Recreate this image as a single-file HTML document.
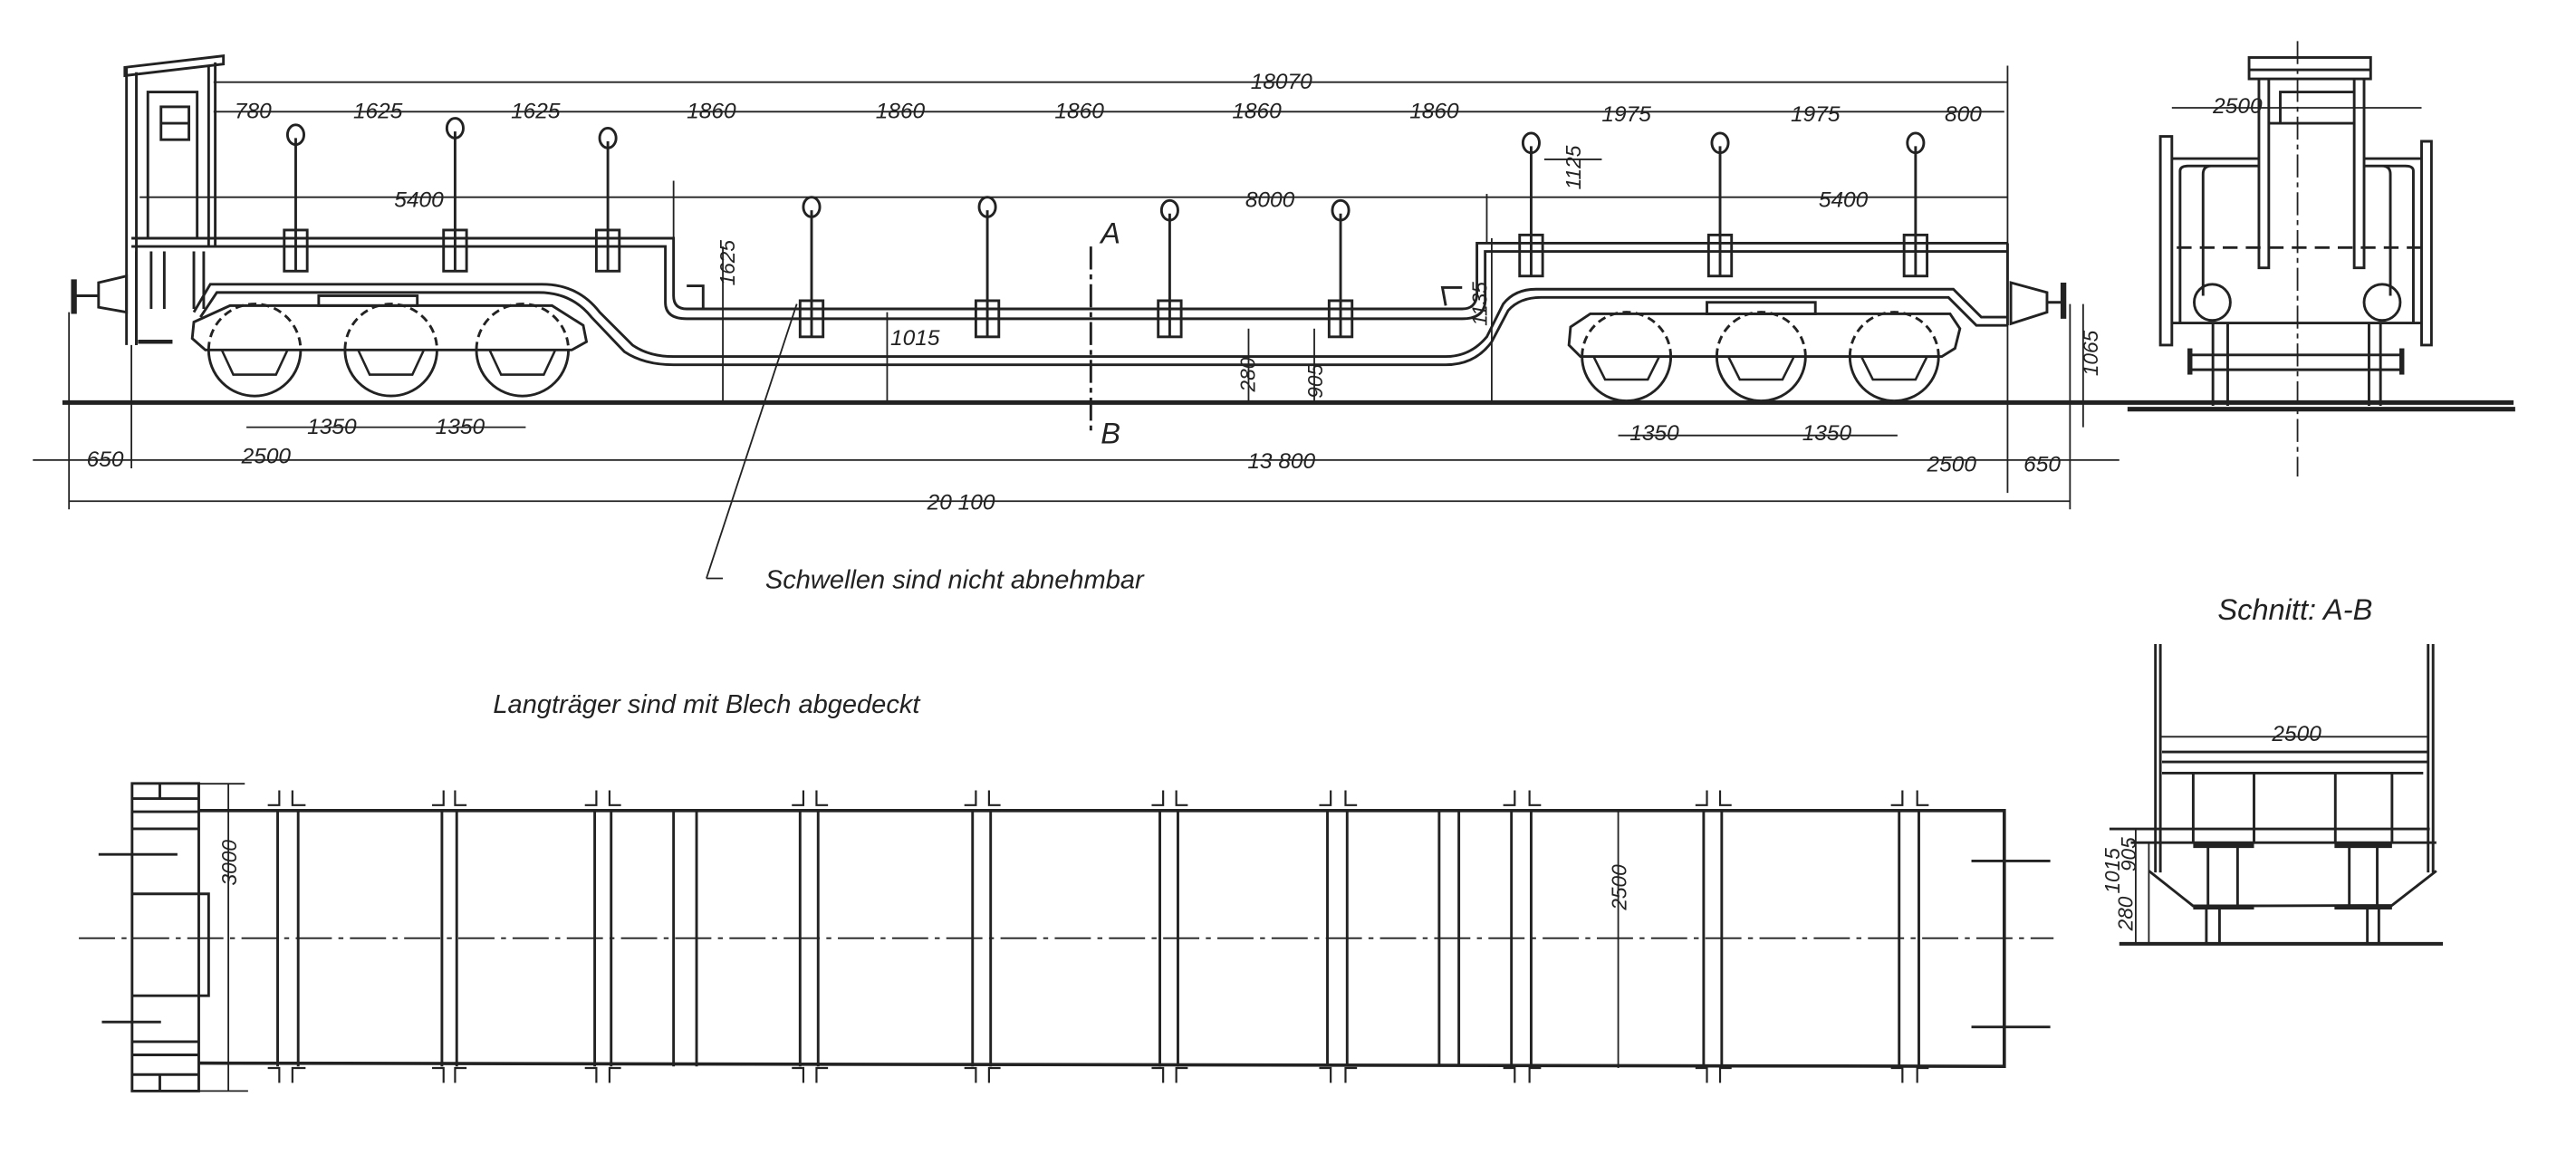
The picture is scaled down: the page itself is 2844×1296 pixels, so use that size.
<!DOCTYPE html>
<html><head><meta charset="utf-8"><style>
html,body{margin:0;padding:0;background:#fff;}
svg{display:block;}
text{font-family:"Liberation Sans",sans-serif;font-style:italic;fill:#222;}
</style></head><body>
<svg width="2844" height="1296" viewBox="0 0 1568 714.5" preserveAspectRatio="none" xmlns="http://www.w3.org/2000/svg">
<rect width="1568" height="714.5" fill="#fff"/>
<g stroke="#222" fill="none" stroke-width="1.6">
<line x1="38" y1="245" x2="1530" y2="245" stroke-width="2.8"/>
<path d="M77 41 L77 210 M83 44 L83 210 M127 40 L127 150 M131 38 L131 150"/>
<path d="M76 41 L76 46 L136 39 L136 34 Z"/>
<rect x="90" y="56" width="30" height="89"/>
<rect x="98" y="65" width="17" height="20"/>
<line x1="98" y1="75" x2="115" y2="75"/>
<path d="M83 153 L83 210 M92 153 L92 188 M100 153 L100 188 M118 153 L118 188 M124 153 L124 188"/>
<line x1="84" y1="208" x2="105" y2="208" stroke-width="2.5"/>
<path d="M80 145 L410 145 L410 180 Q410 188 418 188 L890 188 Q898 188 899 180 L899 148 L1222 148"/>
<path d="M80 150 L405 150 L405 184 Q405 194 418 194 L890 194 Q903 194 904 184 L904 153 L1222 153"/>
<path d="M418 174 L428 174 L428 188 M880 186 L878 175 L890 175"/>
<path d="M118 190 L128 173 L330 173 Q352 173 365 190 L385 210 Q395 217 410 217 L880 217 Q895 217 905 205 L915 185 Q922 176 935 176 L1189 176 L1206 193 L1222 193"/>
<path d="M122 193 L132 178 L328 178 Q348 178 360 193 L380 214 Q392 222 410 222 L880 222 Q898 222 908 208 L918 189 Q925 181 938 181 L1186 181 L1203 198 L1222 198"/>
<line x1="1222" y1="148" x2="1222" y2="198"/>
<path d="M60 172 L77 168 L77 190 L60 187 Z"/>
<line x1="45" y1="170" x2="45" y2="191" stroke-width="3.5"/>
<line x1="45" y1="180" x2="60" y2="180"/>
<path d="M1224 172 L1246 178 L1246 190 L1224 197 Z"/>
<line x1="1256" y1="172" x2="1256" y2="194" stroke-width="3.5"/>
<line x1="1246" y1="184" x2="1256" y2="184"/>
<path d="M140 186 L336 186 L355 198 L357 208 L348 213 L125 213 L117 206 L118 196 Z"/>
<rect x="194" y="180" width="60" height="6"/>
<path d="M968 191 L1187 191 L1193 200 L1190 212 L1182 217 L962 217 L955 210 L956 199 Z"/>
<rect x="1039" y="184" width="66" height="7"/>
<g stroke-dasharray="5,3">
<path d="M127 213 A28 28 0 0 1 183 213"/><path d="M210 213 A28 28 0 0 1 266 213"/><path d="M290 213 A28 28 0 0 1 346 213"/>
<path d="M963 217 A27 27 0 0 1 1017 217"/><path d="M1045 217 A27 27 0 0 1 1099 217"/><path d="M1126 217 A27 27 0 0 1 1180 217"/>
</g>
<path d="M127 213 A28 28 0 0 0 183 213"/><path d="M210 213 A28 28 0 0 0 266 213"/><path d="M290 213 A28 28 0 0 0 346 213"/>
<path d="M963 217 A27 27 0 0 0 1017 217"/><path d="M1045 217 A27 27 0 0 0 1099 217"/><path d="M1126 217 A27 27 0 0 0 1180 217"/>
<g stroke-width="1.4">
<path d="M135 213 L142 228 L168 228 L175 213"/><path d="M218 213 L225 228 L251 228 L258 213"/><path d="M298 213 L305 228 L331 228 L338 213"/>
<path d="M970 217 L977 231 L1003 231 L1010 217"/><path d="M1052 217 L1059 231 L1085 231 L1092 217"/><path d="M1133 217 L1140 231 L1166 231 L1173 217"/>
</g>
<g>
<line x1="180" y1="84" x2="180" y2="165"/><ellipse cx="180" cy="82" rx="5" ry="6"/><rect x="173" y="140" width="14" height="25"/>
<line x1="277" y1="80" x2="277" y2="165"/><ellipse cx="277" cy="78" rx="5" ry="6"/><rect x="270" y="140" width="14" height="25"/>
<line x1="370" y1="86" x2="370" y2="165"/><ellipse cx="370" cy="84" rx="5" ry="6"/><rect x="363" y="140" width="14" height="25"/>
<line x1="494" y1="128" x2="494" y2="205"/><ellipse cx="494" cy="126" rx="5" ry="6"/><rect x="487" y="183" width="14" height="22"/>
<line x1="601" y1="128" x2="601" y2="205"/><ellipse cx="601" cy="126" rx="5" ry="6"/><rect x="594" y="183" width="14" height="22"/>
<line x1="712" y1="130" x2="712" y2="205"/><ellipse cx="712" cy="128" rx="5" ry="6"/><rect x="705" y="183" width="14" height="22"/>
<line x1="816" y1="130" x2="816" y2="205"/><ellipse cx="816" cy="128" rx="5" ry="6"/><rect x="809" y="183" width="14" height="22"/>
<line x1="932" y1="89" x2="932" y2="168"/><ellipse cx="932" cy="87" rx="5" ry="6"/><rect x="925" y="143" width="14" height="25"/>
<line x1="1047" y1="89" x2="1047" y2="168"/><ellipse cx="1047" cy="87" rx="5" ry="6"/><rect x="1040" y="143" width="14" height="25"/>
<line x1="1166" y1="89" x2="1166" y2="168"/><ellipse cx="1166" cy="87" rx="5" ry="6"/><rect x="1159" y="143" width="14" height="25"/>
</g>
<line x1="664" y1="150" x2="664" y2="265" stroke-dasharray="14,3,3,3"/>
<g stroke-width="1">
<line x1="130" y1="50" x2="1222" y2="50"/><line x1="1222" y1="40" x2="1222" y2="300"/>
<line x1="130" y1="68" x2="1220" y2="68"/>
<line x1="85" y1="120" x2="1222" y2="120"/>
<line x1="410" y1="110" x2="410" y2="145"/><line x1="905" y1="118" x2="905" y2="148"/>
<line x1="440" y1="150" x2="440" y2="245"/><line x1="540" y1="190" x2="540" y2="245"/>
<line x1="760" y1="200" x2="760" y2="245"/><line x1="800" y1="200" x2="800" y2="245"/>
<line x1="908" y1="145" x2="908" y2="245"/><line x1="1260" y1="185" x2="1260" y2="245"/>
<line x1="1268" y1="185" x2="1268" y2="260"/>
<line x1="150" y1="260" x2="320" y2="260"/><line x1="985" y1="265" x2="1155" y2="265"/>
<line x1="20" y1="280" x2="1290" y2="280"/>
<line x1="42" y1="305" x2="1260" y2="305"/>
<line x1="42" y1="190" x2="42" y2="310"/><line x1="1260" y1="245" x2="1260" y2="310"/>
<line x1="80" y1="210" x2="80" y2="285"/>
<line x1="940" y1="97" x2="975" y2="97"/>
<line x1="485" y1="185" x2="430" y2="352"/><line x1="430" y1="352" x2="440" y2="352"/>
</g>
<rect x="1369" y="35" width="74" height="13"/><line x1="1369" y1="42.5" x2="1443" y2="42.5"/>
<path d="M1375 48 L1375 163 L1381 163 L1381 48 M1433 48 L1433 163 L1439 163 L1439 48"/>
<path d="M1388 75 L1388 56 L1433 56 M1381 75 L1433 75"/>
<path d="M1315 83 L1322 83 L1322 210 L1315 210 Z M1474 86 L1480 86 L1480 210 L1474 210 Z"/>
<path d="M1322 96.5 L1375 96.5 M1439 96.5 L1474 96.5"/>
<path d="M1327 197 L1327 104 Q1327 101 1332 101 L1375 101 M1341 180 L1341 106 Q1341 101 1346 101"/>
<path d="M1469 197 L1469 104 Q1469 101 1464 101 L1439 101 M1455 180 L1455 106 Q1455 101 1450 101"/>
<line x1="1325" y1="150.7" x2="1478" y2="150.7" stroke-dasharray="9,5"/>
<circle cx="1346.6" cy="184" r="11"/><circle cx="1450" cy="184" r="11"/>
<line x1="1322" y1="196.6" x2="1474" y2="196.6"/>
<path d="M1332 216 L1463 216 M1332 225 L1463 225"/>
<line x1="1333" y1="212" x2="1333" y2="228" stroke-width="3"/><line x1="1462" y1="212" x2="1462" y2="228" stroke-width="3"/>
<path d="M1347 197 L1347 247 M1356 197 L1356 247 M1442 197 L1442 247 M1449 197 L1449 247"/>
<line x1="1398.5" y1="25" x2="1398.5" y2="290" stroke-dasharray="14,3,3,3" stroke-width="1"/>
<line x1="1322" y1="65.6" x2="1474" y2="65.6" stroke-width="1"/>
<line x1="1295" y1="249" x2="1531" y2="249" stroke-width="2.8"/>
<path d="M1312 392 L1312 531 M1315 392 L1315 531 M1478 392 L1478 531 M1481 392 L1481 531"/>
<line x1="1315" y1="448.4" x2="1478" y2="448.4" stroke-width="1"/>
<path d="M1316 457.6 L1478 457.6 M1316 463.7 L1478 463.7"/>
<path d="M1316 470.5 L1475 470.5"/>
<path d="M1335 470.5 V512.8 M1372 470.5 V512.8 M1421.5 470.5 V512.8 M1456 470.5 V512.8"/>
<line x1="1284" y1="504.5" x2="1479" y2="504.5"/>
<line x1="1297" y1="512.8" x2="1483" y2="512.8"/>
<path d="M1335 514.6 L1372 514.6 M1421 514.6 L1456 514.6" stroke-width="3"/>
<path d="M1335 552 L1372 552 M1421 552 L1456 552" stroke-width="3"/>
<path d="M1344 514.6 V552 M1362 514.6 V552 M1430 514.6 V552 M1447 514.6 V552"/>
<path d="M1308 530 L1335 551.4 L1456 551 L1483 530"/>
<path d="M1343 552 V575 M1351 552 V575 M1441 552 V575 M1448 552 V575"/>
<line x1="1290" y1="574.4" x2="1487" y2="574.4" stroke-width="2.2"/>
<line x1="1300" y1="505" x2="1300" y2="575" stroke-width="1"/>
<line x1="1308" y1="513" x2="1308" y2="575" stroke-width="1"/>
<path d="M121 493.3 L1220 493.3 L1220 649 L121 647" stroke-width="2"/>
<rect x="80.4" y="476.8" width="40.6" height="187.2"/>
<path d="M97.3 476.8 V486 M80.4 486 H121 M80.4 494 H121 M80.4 504.4 H121 M80.4 544 H127 V606 H80.4 M80.4 634 H121 M80.4 642 H121 M80.4 654 H121 M97.3 654 V664"/>
<line x1="60" y1="520" x2="108" y2="520"/><line x1="62" y1="622" x2="98" y2="622"/>
<line x1="139" y1="477" x2="139" y2="664" stroke-width="1"/>
<line x1="121" y1="477" x2="149" y2="477" stroke-width="1"/><line x1="121" y1="664" x2="151" y2="664" stroke-width="1"/>
<line x1="985" y1="493" x2="985" y2="650" stroke-width="1"/>
<line x1="48" y1="571" x2="1250" y2="571" stroke-dasharray="22,4,3,4" stroke-width="1"/>
<line x1="1200" y1="524" x2="1248" y2="524"/><line x1="1200" y1="625" x2="1248" y2="625"/>
<g>
<path d="M169 493 V649 M181.5 493 V649"/><path d="M269 493 V649 M278 493 V649"/>
<path d="M362 493 V649 M372 493 V649"/><path d="M410 493 V649 M424 493 V649"/>
<path d="M487 493 V649 M498 493 V649"/><path d="M592 493 V649 M603 493 V649"/>
<path d="M706 493 V649 M717 493 V649"/><path d="M808 493 V649 M820 493 V649"/>
<path d="M876 493 V649 M888 493 V649"/><path d="M920 493 V649 M932 493 V649"/>
<path d="M1037 493 V649 M1048 493 V649"/><path d="M1156 493 V649 M1168 493 V649"/>
</g>
</g>
<g font-size="13.5" text-anchor="middle">
<text x="780" y="54">18070</text>
<text x="154" y="72">780</text><text x="230" y="72">1625</text><text x="326" y="72">1625</text>
<text x="433" y="72">1860</text><text x="548" y="72">1860</text><text x="657" y="72">1860</text>
<text x="765" y="72">1860</text><text x="873" y="72">1860</text><text x="990" y="74">1975</text>
<text x="1105" y="74">1975</text><text x="1195" y="74">800</text>
<text x="255" y="126">5400</text><text x="773" y="126">8000</text><text x="1122" y="126">5400</text>
<text x="202" y="264">1350</text><text x="280" y="264">1350</text>
<text x="1007" y="268">1350</text><text x="1112" y="268">1350</text>
<text x="64" y="284">650</text><text x="162" y="282">2500</text><text x="780" y="285">13 800</text>
<text x="1188" y="287">2500</text><text x="1243" y="287">650</text>
<text x="585" y="310">20 100</text>
<text x="557" y="210">1015</text>
<text x="1362" y="69">2500</text>
<text x="1398" y="451">2500</text>
<text x="581" y="358" font-size="16">Schwellen sind nicht abnehmbar</text>
<text x="430" y="434" font-size="16">Langträger sind mit Blech abgedeckt</text>
<text x="1397" y="377" font-size="18">Schnitt: A-B</text>
<text x="676" y="148" font-size="18">A</text><text x="676" y="270" font-size="18">B</text>
</g>
<g font-size="12.5" text-anchor="middle">
<text transform="translate(447,160) rotate(-90)">1625</text>
<text transform="translate(962,102) rotate(-90)">1125</text>
<text transform="translate(905,185) rotate(-90)">1135</text>
<text transform="translate(764,228) rotate(-90)">280</text>
<text transform="translate(805,232) rotate(-90)">905</text>
<text transform="translate(1277,215) rotate(-90)">1065</text>
<text transform="translate(144,525) rotate(-90)">3000</text>
<text transform="translate(990,540) rotate(-90)">2500</text>
<text transform="translate(1290,530) rotate(-90)">1015</text>
<text transform="translate(1300,520) rotate(-90)">905</text>
<text transform="translate(1298,556) rotate(-90)">280</text>
</g>
<g stroke="#222" stroke-width="1.2" fill="none">
<path d="M170 481 V490 H163 M178 481 V490 H186 M270 481 V490 H263 M277 481 V490 H284 M363 481 V490 H356 M371 481 V490 H378 M489 481 V490 H482 M497 481 V490 H504 M594 481 V490 H587 M602 481 V490 H609 M708 481 V490 H701 M716 481 V490 H723 M810 481 V490 H803 M819 481 V490 H826 M922 481 V490 H915 M931 481 V490 H938 M1039 481 V490 H1032 M1047 481 V490 H1054 M1158 481 V490 H1151 M1167 481 V490 H1174"/>
<path d="M163 650 H170 V659 M178 659 V650 H186 M263 650 H270 V659 M277 659 V650 H284 M356 650 H363 V659 M371 659 V650 H378 M482 650 H489 V659 M497 659 V650 H504 M587 650 H594 V659 M602 659 V650 H609 M701 650 H708 V659 M716 659 V650 H723 M803 650 H810 V659 M819 659 V650 H826 M915 650 H922 V659 M931 659 V650 H938 M1032 650 H1039 V659 M1047 659 V650 H1054 M1151 650 H1158 V659 M1167 659 V650 H1174"/>
</g>
</svg>
</body></html>
